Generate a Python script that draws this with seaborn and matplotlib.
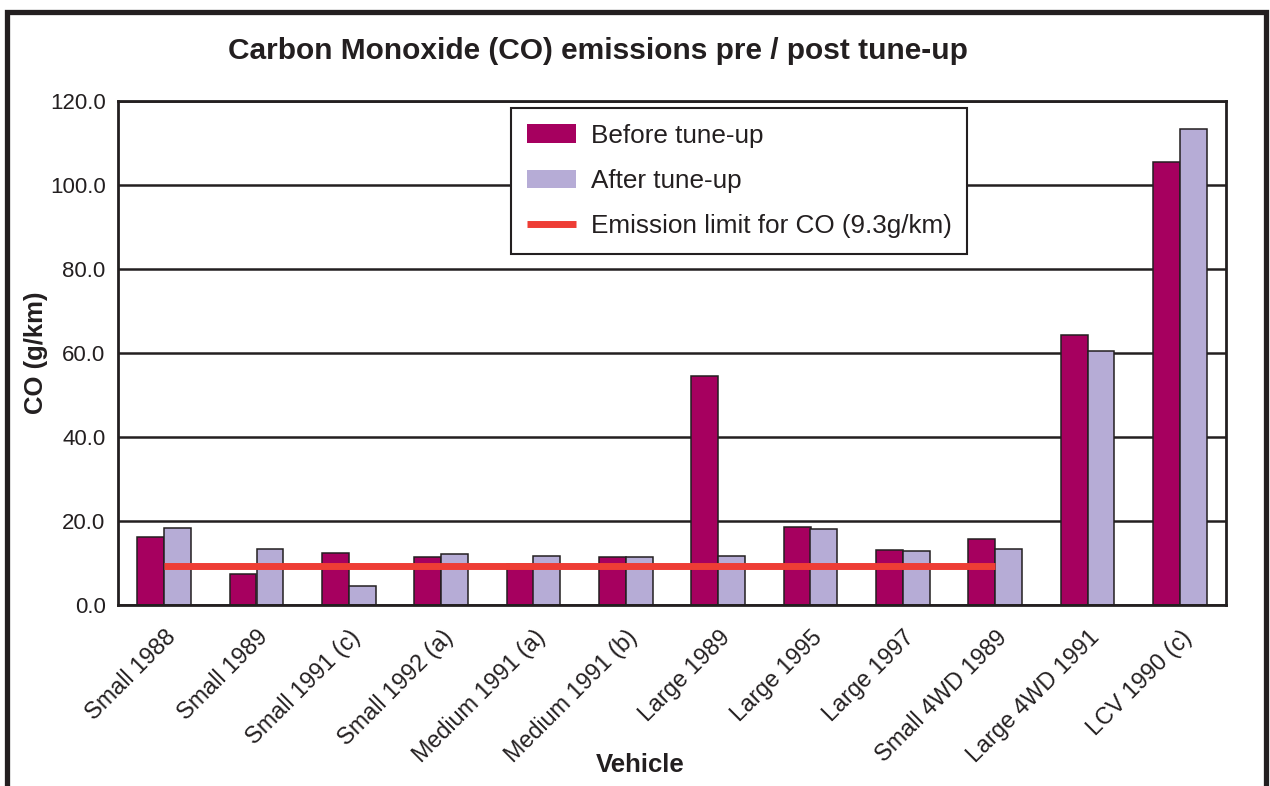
import numpy as np
import pandas as pd
import matplotlib
matplotlib.use("Agg")
import matplotlib.pyplot as plt
import seaborn as sns
from matplotlib.patches import Rectangle, Patch
from matplotlib.lines import Line2D
from matplotlib.ticker import FormatStrFormatter, FixedLocator

# Vehicles tested and measured CO emissions (g/km)
vehicles = ["Small 1988", "Small 1989", "Small 1991 (c)", "Small 1992 (a)",
            "Medium 1991 (a)", "Medium 1991 (b)", "Large 1989", "Large 1995",
            "Large 1997", "Small 4WD 1989", "Large 4WD 1991", "LCV 1990 (c)"]
before = [16.3, 7.4, 12.3, 11.4, 9.8, 11.4, 54.5, 18.5, 13.2, 15.8, 64.3, 105.4]
after = [18.3, 13.3, 4.5, 12.1, 11.6, 11.5, 11.6, 18.2, 12.9, 13.3, 60.5, 113.3]
series_names = ["Before tune-up", "After tune-up"]

# Emission limit applies to the passenger vehicles only
limit_vehicles = vehicles[:10]
limit_value = 9.3
limit_name = "Emission limit for CO (9.3g/km)"

y_ticks = [0, 20, 40, 60, 80, 100, 120]

c_before = "#A6005F"
c_after = "#B6ACD6"
c_limit = "#EE3D35"
ink = "#231F20"

sns.set_style("white")
plt.rcParams["font.family"] = ["Liberation Sans", "DejaVu Sans"]
plt.rcParams["text.color"] = ink
plt.rcParams["axes.labelcolor"] = ink
plt.rcParams["xtick.color"] = ink
plt.rcParams["ytick.color"] = ink

df = pd.DataFrame({
    "Vehicle": vehicles * 2,
    "CO": before + after,
    "Phase": [name for name in series_names for _ in vehicles],
})
limit_df = pd.DataFrame({"Vehicle": limit_vehicles,
                         "CO": [limit_value] * len(limit_vehicles)})

fig = plt.figure(figsize=(12.7, 7.86), dpi=100)
ax = fig.add_axes([118 / 1270, 1 - 605 / 786, (1226 - 118) / 1270, (605 - 101) / 786])

sns.barplot(data=df, x="Vehicle", y="CO", hue="Phase", order=vehicles,
            hue_order=series_names, palette=[c_before, c_after], saturation=1,
            width=0.58, gap=0, edgecolor=ink, linewidth=1.1, legend=False,
            errorbar=None, ax=ax, zorder=2)

sns.pointplot(data=limit_df, x="Vehicle", y="CO", order=vehicles, color=c_limit,
              markers="", linestyles="-", errorbar=None, ax=ax, zorder=4,
              linewidth=5, solid_capstyle="butt")

ax.set_xlim(-0.5, len(vehicles) - 0.5)
ax.set_ylim(0, 120)
ax.set_yticks(y_ticks)
ax.yaxis.set_major_formatter(FormatStrFormatter("%.1f"))
ax.yaxis.grid(True, color=ink, linewidth=1.8)
ax.set_axisbelow(True)

for s in ax.spines.values():
    s.set_visible(True)
    s.set_color(ink)
    s.set_linewidth(2)

ax.set_xticks(range(len(vehicles)))
ax.set_xticklabels(vehicles, rotation=45, ha="right", rotation_mode="anchor",
                   fontsize=16.8)
ax.xaxis.set_minor_locator(FixedLocator(np.arange(-0.5, len(vehicles), 1.0)))
ax.tick_params(axis="x", which="major", length=0, pad=15)
ax.tick_params(axis="x", which="minor", length=6, width=2, direction="out")
ax.tick_params(axis="y", which="major", length=4, width=2, direction="out",
               labelsize=16, pad=5)

ax.set_xlabel("Vehicle", fontsize=18.5, fontweight="bold")
ax.set_ylabel("CO (g/km)", fontsize=18.5, fontweight="bold")
ax.xaxis.set_label_coords((640 - 118) / 1108, (605 - 753) / 504)
ax.yaxis.set_label_coords((48 - 118) / 1108, 0.5)

fig.text(598 / 1270, 1 - 51 / 786, "Carbon Monoxide (CO) emissions pre / post tune-up",
         fontsize=21.5, fontweight="bold", ha="center", va="center")

handles = [Patch(facecolor=c_before, edgecolor="none"),
           Patch(facecolor=c_after, edgecolor="none"),
           Line2D([0], [0], color=c_limit, linewidth=5, solid_capstyle="butt")]
leg = ax.legend(handles, series_names + [limit_name], loc="upper left",
                bbox_to_anchor=(511 / 1270, 1 - 108 / 786),
                bbox_transform=fig.transFigure, borderaxespad=0,
                fontsize=18.8, frameon=True, fancybox=False, framealpha=1,
                edgecolor=ink, handlelength=1.9, handletextpad=0.55,
                borderpad=0.6, labelspacing=0.82)
leg.get_frame().set_linewidth(1.5)
leg.set_zorder(10)

# Outer frame around the whole chart
fig.patches.append(Rectangle((6.5 / 1270, -0.1), (1266 - 6.5) / 1270, 1.1 - 12.5 / 786,
                             transform=fig.transFigure, fill=False,
                             edgecolor=ink, linewidth=3.8, zorder=0))

fig.savefig("out.png", dpi=100)
